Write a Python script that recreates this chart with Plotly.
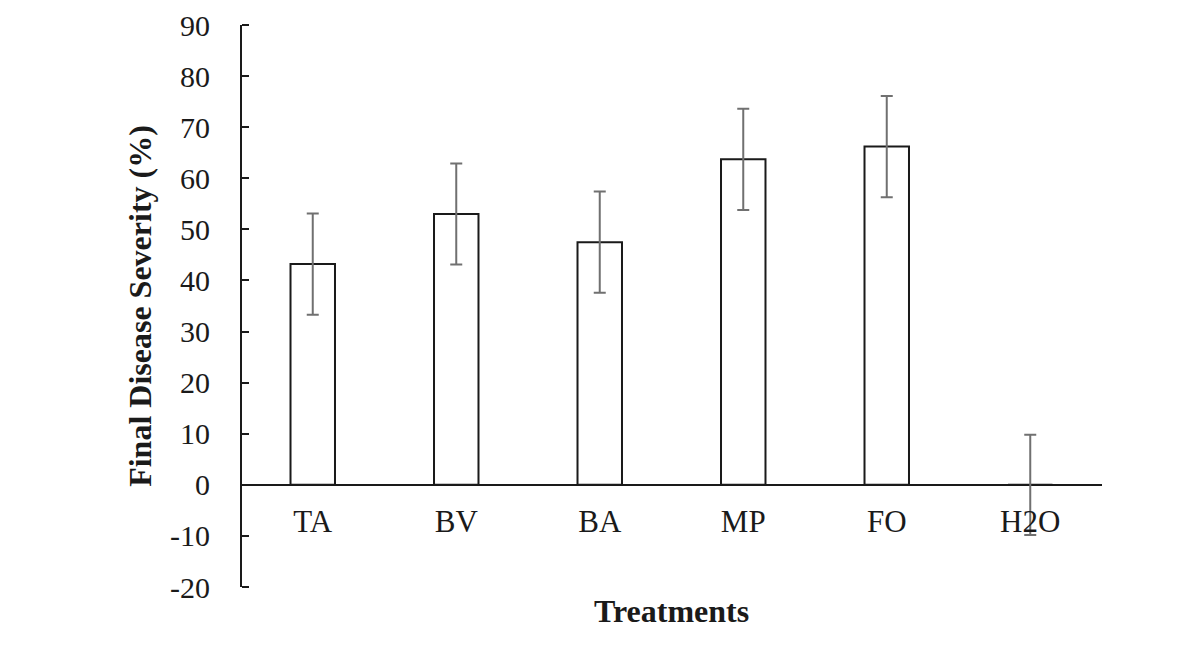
import plotly.graph_objects as go

treatments = ["TA", "BV", "BA", "MP", "FO", "H2O"]
severity = [43.2, 53.0, 47.5, 63.7, 66.2, 0.0]
severity_err = [9.9, 9.9, 9.9, 9.9, 9.9, 9.8]
y_ticks = list(range(-20, 91, 10))
y_tick_text = [str(v) for v in y_ticks]  # plain hyphen, as in the original

y_min, y_max = -20, 90
zero_pos = (0 - y_min) / (y_max - y_min)

font_family = "Liberation Serif, Times New Roman, serif"
ink = "#1a1a1a"

fig = go.Figure()

fig.add_trace(go.Bar(
    x=treatments,
    y=severity,
    width=0.31,
    marker=dict(color="white", line=dict(color=ink, width=2)),
    error_y=dict(type="data", array=severity_err, visible=True,
                 color="#707070", thickness=2, width=6),
    showlegend=False,
))

# invisible copy on a second y axis, only so its tick marks point into the plot
fig.add_trace(go.Scatter(
    x=treatments, y=severity, yaxis="y2", mode="markers",
    marker=dict(opacity=0), hoverinfo="skip", showlegend=False,
))

fig.update_layout(
    width=1201,
    height=651,
    margin=dict(l=233, r=107, t=17, b=72),
    paper_bgcolor="white",
    plot_bgcolor="white",
    font=dict(family=font_family, size=30, color=ink),
    xaxis=dict(
        anchor="free",
        position=zero_pos,
        showline=False,
        ticks="",
        showgrid=False,
        automargin=False,
        tickfont=dict(size=31),
        ticklabelstandoff=15,
    ),
    yaxis=dict(
        anchor="free",
        position=0,
        range=[y_min, y_max],
        tickvals=y_ticks,
        ticktext=y_tick_text,
        showline=True,
        linecolor=ink,
        linewidth=2,
        ticks="",
        showgrid=False,
        zeroline=True,
        zerolinecolor=ink,
        zerolinewidth=2,
        automargin=False,
        tickfont=dict(size=30),
        ticklabelstandoff=24,
        title=dict(text="<b>Final Disease Severity (%)</b>",
                   font=dict(size=32), standoff=8),
    ),
    yaxis2=dict(
        overlaying="y",
        side="right",
        anchor="free",
        position=0,
        range=[y_min, y_max],
        tickvals=y_ticks,
        showticklabels=False,
        showline=False,
        ticks="outside",
        ticklen=7,
        tickwidth=2,
        tickcolor=ink,
        showgrid=False,
        zeroline=False,
        automargin=False,
    ),
    annotations=[dict(
        text="<b>Treatments</b>",
        xref="paper", yref="paper",
        x=0.5, y=-0.008, yanchor="top", showarrow=False,
        font=dict(size=32, family=font_family, color=ink),
    )],
)

fig.write_html("out.html")
